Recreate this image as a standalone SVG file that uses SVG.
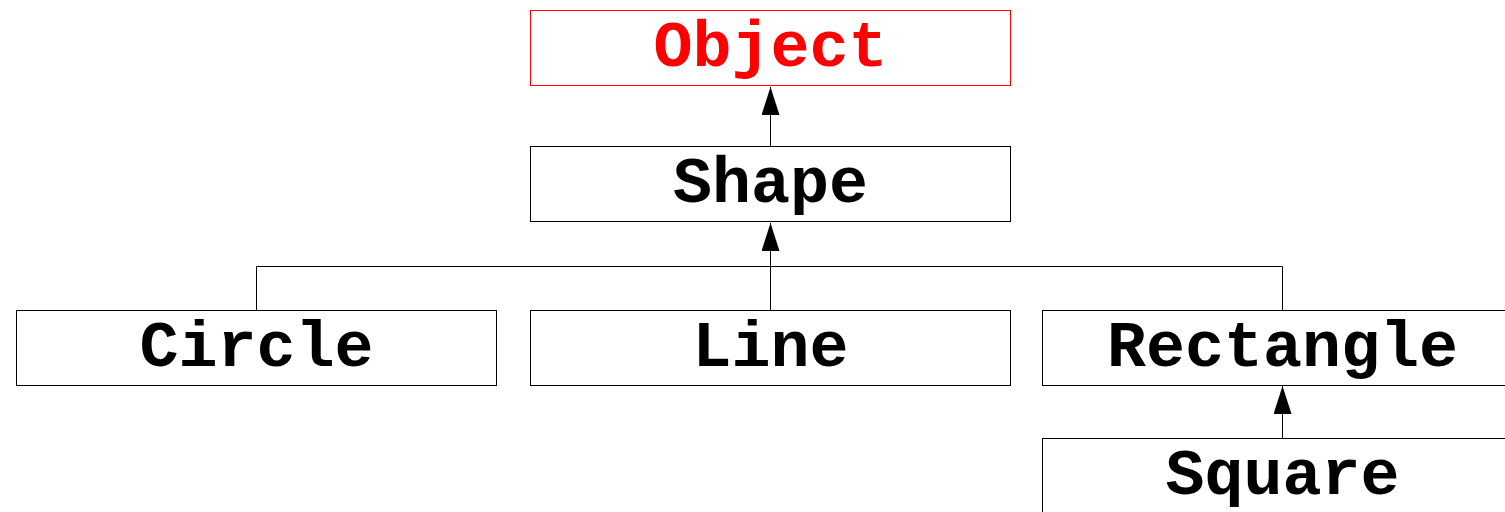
<svg xmlns="http://www.w3.org/2000/svg" width="1505" height="512" viewBox="0 0 1505 512">
  <style>
    .box { fill: #ffffff; stroke: #000000; stroke-width: 1; }
    .box.root { stroke: #ff0000; }
    .label { font-family: "Liberation Mono", "Courier New", monospace; font-weight: bold; font-size: 65px; text-anchor: middle; fill: #000000; }
    .label.root { fill: #ff0000; }
    .edge { fill: none; stroke: #000000; stroke-width: 1; }
  </style>
  <defs>
    <!-- filled triangular head; tip sits exactly on the path end -->
    <marker id="inherit" viewBox="0 0 28 18" refX="28" refY="9" markerWidth="28" markerHeight="18" markerUnits="userSpaceOnUse" orient="auto">
      <path d="M28,9 L0,0 L0,18 Z" fill="#000000"/>
    </marker>
  </defs>
  <rect width="1505" height="512" fill="#ffffff"/>

  <g id="connectors">
    <path class="edge" d="M770.5,146 L770.5,87" marker-end="url(#inherit)"/>
    <path class="edge" d="M770.5,310 L770.5,223" marker-end="url(#inherit)"/>
    <path class="edge" d="M256.5,310 L256.5,266.5 L1282.5,266.5 L1282.5,310"/>
    <path class="edge" d="M1282.5,438 L1282.5,386" marker-end="url(#inherit)"/>
  </g>

  <g id="node-object">
    <rect class="box root" x="530.5" y="10.5" width="480" height="75"/>
    <text class="label root" x="770.5" y="66">Object</text>
  </g>
  <g id="node-shape">
    <rect class="box" x="530.5" y="146.5" width="480" height="75"/>
    <text class="label" x="770.5" y="202">Shape</text>
  </g>
  <g id="node-circle">
    <rect class="box" x="16.5" y="310.5" width="480" height="75"/>
    <text class="label" x="256.5" y="366">Circle</text>
  </g>
  <g id="node-line">
    <rect class="box" x="530.5" y="310.5" width="480" height="75"/>
    <text class="label" x="770.5" y="366">Line</text>
  </g>
  <g id="node-rectangle">
    <rect class="box" x="1042.5" y="310.5" width="480" height="75"/>
    <text class="label" x="1282.5" y="366">Rectangle</text>
  </g>
  <g id="node-square">
    <rect class="box" x="1042.5" y="438.5" width="480" height="75"/>
    <text class="label" x="1282.5" y="494">Square</text>
  </g>
</svg>
